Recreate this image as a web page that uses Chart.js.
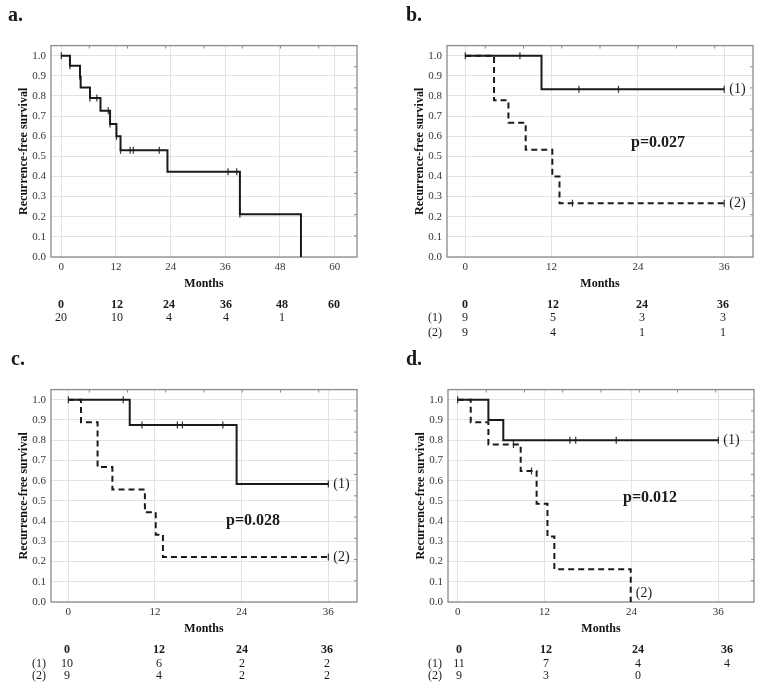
<!DOCTYPE html>
<html>
<head>
<meta charset="utf-8">
<script src="https://cdn.jsdelivr.net/npm/chart.js@4.4.1/dist/chart.umd.min.js"></script>
<style>
    html, body { margin: 0; padding: 0; background: #fff; }
    #page { position: relative; width: 761px; height: 691px; overflow: hidden; font-family: 'Liberation Serif', 'Times New Roman', serif; color: #1a1a1a; filter: grayscale(1); }
    .box { position: absolute; }
    .t { position: absolute; line-height: 1; white-space: nowrap; color: #1a1a1a; }
</style>
</head>
<body>
<div id="page"></div>
<script>
// tick labels
const xTicksA = [0, 12, 24, 36, 48, 60];
const xTicks36 = [0, 12, 24, 36];
const yTicks = [0, 0.1, 0.2, 0.3, 0.4, 0.5, 0.6, 0.7, 0.8, 0.9, 1.0];

// a. whole cohort (months, survival after the drop)
const aTimes = [0, 1.9, 4.1, 4.25, 6.3, 8.6, 10.7, 12.1, 13.0, 23.3, 39.2, 52.6];
const aSurv = [1.0, 0.95, 0.895, 0.842, 0.79, 0.727, 0.66, 0.6, 0.53, 0.424, 0.212, 0.0];
const aCensor = [0, 1.9, 4.1, 6.3, 7.8, 10.3, 10.7, 12.1, 13.0, 15.1, 15.8, 21.5, 36.6, 38.5, 39.2];

// b.
const b1Times = [0, 10.6, 36];
const b1Surv = [1.0, 0.833, 0.833];
const b1Censor = [0, 7.6, 15.8, 21.3, 36];
const b2Times = [0, 4.0, 6.0, 8.4, 12.1, 13.1, 36];
const b2Surv = [1.0, 0.778, 0.667, 0.533, 0.4, 0.267, 0.267];
const b2Censor = [14.9, 36];

// c.
const c1Times = [0, 8.5, 23.3, 36];
const c1Surv = [1.0, 0.875, 0.583, 0.583];
const c1Censor = [0, 7.6, 10.2, 15.1, 15.8, 21.4, 36];
const c2Times = [0, 1.75, 4.05, 6.1, 10.6, 12.1, 13.1, 36];
const c2Surv = [1.0, 0.889, 0.667, 0.556, 0.444, 0.333, 0.222, 0.222];
const c2Censor = [36];

// d.
const d1Times = [0, 4.24, 6.3, 36];
const d1Surv = [1.0, 0.9, 0.8, 0.8];
const d1Censor = [0, 15.5, 16.3, 21.9, 36];
const d2Times = [0, 1.8, 4.24, 8.7, 10.9, 12.4, 13.35, 23.9];
const d2Surv = [1.0, 0.889, 0.778, 0.648, 0.486, 0.324, 0.162, 0.0];
const d2Censor = [7.7, 10.2];

// numbers at risk
const riskA = [20, 10, 4, 4, 1];
const riskB1 = [9, 5, 3, 3];
const riskB2 = [9, 4, 1, 1];
const riskC1 = [10, 6, 2, 2];
const riskC2 = [9, 4, 2, 2];
const riskD1 = [11, 7, 4, 4];
const riskD2 = [9, 3, 0];

const SERIF = "'Liberation Serif', 'Times New Roman', serif";
const page = document.getElementById('page');

function text(x, y, str, size, bold, left) {
    const el = document.createElement('div');
    el.className = 't';
    el.textContent = str;
    el.style.left = x + 'px';
    el.style.top = y + 'px';
    el.style.fontSize = size + 'px';
    if (bold) el.style.fontWeight = 'bold';
    el.style.transform = left ? 'translate(0,-50%)' : 'translate(-50%,-50%)';
    page.appendChild(el);
}

function survAt(times, surv, t) {
    let s = surv[0];
    times.forEach((tt, i) => { if (tt <= t) s = surv[i]; });
    return s;
}

const frame = {
    id: 'frame',
    beforeDatasetsDraw(chart) {
        const { ctx, chartArea: a } = chart;
        ctx.save();
        ctx.strokeStyle = '#8a8a8a';
        ctx.lineWidth = 1.3;
        ctx.strokeRect(a.left, a.top, a.right - a.left, a.bottom - a.top);
        ctx.lineWidth = 1;
        ctx.beginPath();
        for (let i = 1; i < 8; i++) {
            const x = a.left + (a.right - a.left) * i / 8;
            ctx.moveTo(x, a.top); ctx.lineTo(x, a.top + 3);
        }
        for (let i = 1; i < 10; i++) {
            const y = a.top + (a.bottom - a.top) * i / 10;
            ctx.moveTo(a.right, y); ctx.lineTo(a.right - 3, y);
        }
        ctx.stroke();
        ctx.restore();
    }
};

const endLabels = {
    id: 'endLabels',
    afterDatasetsDraw(chart) {
        const { ctx, chartArea: a, scales } = chart;
        ctx.save();
        ctx.font = '14px ' + SERIF;
        ctx.fillStyle = '#1a1a1a';
        ctx.textBaseline = 'middle';
        chart.data.datasets.forEach(ds => {
            if (!ds.endLabel) return;
            const p = ds.data[ds.data.length - 1];
            const x = scales.x.getPixelForValue(p.x) + 5;
            const y = Math.min(scales.y.getPixelForValue(p.y), a.bottom - 9);
            ctx.fillText(ds.endLabel, x, y);
        });
        ctx.restore();
    }
};

function makePanel(p) {
    const left = p.L - 50, top = p.T - 8;
    const box = document.createElement('div');
    box.className = 'box';
    box.style.left = left + 'px';
    box.style.top = top + 'px';
    box.style.width = (p.R - left + 8) + 'px';
    box.style.height = (p.B - top + 36) + 'px';
    const canvas = document.createElement('canvas');
    box.appendChild(canvas);
    page.appendChild(box);

    const datasets = [];
    p.groups.forEach(g => {
        datasets.push({
            data: g.times.map((t, i) => ({ x: t, y: g.surv[i] })),
            showLine: true, stepped: true,
            borderColor: '#1a1a1a', borderWidth: 2,
            borderDash: g.dashed ? [6, 4] : [],
            pointRadius: 0, endLabel: g.label
        });
        datasets.push({
            data: g.cens.map(t => ({ x: t, y: survAt(g.times, g.surv, t) })),
            showLine: false,
            pointStyle: 'line', rotation: 90, radius: 3.5,
            borderColor: '#333', borderWidth: 1.2
        });
    });

    const tickFont = { family: SERIF, size: 11 };
    const titleFont = { family: SERIF, size: 12, weight: 'bold' };

    new Chart(canvas, {
        type: 'scatter',
        data: { datasets },
        plugins: [frame, endLabels],
        options: {
            responsive: true, maintainAspectRatio: false, animation: false,
            layout: { padding: { left: 0, right: 8, top: 8, bottom: 0 } },
            plugins: { legend: { display: false }, tooltip: { enabled: false } },
            scales: {
                x: {
                    type: 'linear', min: p.xMin, max: p.xMax,
                    afterBuildTicks: s => { s.ticks = p.xTicks.map(v => ({ value: v })); },
                    afterFit: s => { s.height = 36; },
                    grid: { color: '#e2e2e2', drawTicks: false },
                    border: { display: false },
                    ticks: { color: '#333', font: tickFont, padding: 4, maxRotation: 0, callback: v => v },
                    title: { display: true, text: 'Months', color: '#111', font: titleFont, padding: { top: 0, bottom: 2 } }
                },
                y: {
                    type: 'linear', min: 0, max: 1.05,
                    afterBuildTicks: s => { s.ticks = yTicks.map(v => ({ value: v })); },
                    afterFit: s => { s.width = 50; },
                    grid: { color: '#e2e2e2', drawTicks: false },
                    border: { display: false },
                    ticks: { color: '#333', font: tickFont, padding: 5, callback: v => v.toFixed(1) },
                    title: { display: true, text: 'Recurrence-free survival', color: '#111', font: titleFont, padding: { top: 16, bottom: 0 } }
                }
            }
        }
    });

    // panel letter
    text(p.letterX, p.letterY, p.letter, 20, true, true);
    if (p.pValue) text(p.pX, p.pY, p.pValue, 16, true);

    // numbers at risk
    p.riskHeader.forEach((v, i) => text(p.riskX[i], p.riskY[0], String(v), 12, true));
    p.riskRows.forEach((row, r) => {
        if (p.rowLabels) text(p.rowLabelX, p.riskY[r + 1], p.rowLabels[r], 12, false);
        row.forEach((v, i) => text(p.riskX[i], p.riskY[r + 1], String(v), 12, false));
    });
}

makePanel({
    L: 51, R: 357, T: 42, B: 257, xMin: -2.26, xMax: 64.9, xTicks: xTicksA,
    groups: [{ times: aTimes, surv: aSurv, cens: aCensor, dashed: false }],
    letter: 'a.', letterX: 8, letterY: 14,
    riskHeader: xTicksA, riskRows: [riskA], riskX: [61, 117, 169, 226, 282, 334], riskY: [304, 317.3]
});

makePanel({
    L: 447, R: 753, T: 42, B: 257, xMin: -2.54, xMax: 40.0, xTicks: xTicks36,
    groups: [
        { times: b1Times, surv: b1Surv, cens: b1Censor, dashed: false, label: '(1)' },
        { times: b2Times, surv: b2Surv, cens: b2Censor, dashed: true, label: '(2)' }
    ],
    letter: 'b.', letterX: 406, letterY: 14,
    pValue: 'p=0.027', pX: 658, pY: 142,
    riskHeader: xTicks36, riskRows: [riskB1, riskB2], rowLabels: ['(1)', '(2)'], rowLabelX: 435,
    riskX: [465, 553, 642, 723], riskY: [304, 317.3, 331.7]
});

makePanel({
    L: 51, R: 357, T: 386, B: 602, xMin: -2.40, xMax: 39.97, xTicks: xTicks36,
    groups: [
        { times: c1Times, surv: c1Surv, cens: c1Censor, dashed: false, label: '(1)' },
        { times: c2Times, surv: c2Surv, cens: c2Censor, dashed: true, label: '(2)' }
    ],
    letter: 'c.', letterX: 11, letterY: 358,
    pValue: 'p=0.028', pX: 253, pY: 520,
    riskHeader: xTicks36, riskRows: [riskC1, riskC2], rowLabels: ['(1)', '(2)'], rowLabelX: 39,
    riskX: [67, 159, 242, 327], riskY: [649.3, 662.7, 675]
});

makePanel({
    L: 448, R: 754, T: 386, B: 602, xMin: -1.34, xMax: 40.93, xTicks: xTicks36,
    groups: [
        { times: d1Times, surv: d1Surv, cens: d1Censor, dashed: false, label: '(1)' },
        { times: d2Times, surv: d2Surv, cens: d2Censor, dashed: true, label: '(2)' }
    ],
    letter: 'd.', letterX: 406, letterY: 358,
    pValue: 'p=0.012', pX: 650, pY: 497,
    riskHeader: xTicks36, riskRows: [riskD1, riskD2], rowLabels: ['(1)', '(2)'], rowLabelX: 435,
    riskX: [459, 546, 638, 727], riskY: [649.3, 662.7, 675]
});
</script>
</body>
</html>
